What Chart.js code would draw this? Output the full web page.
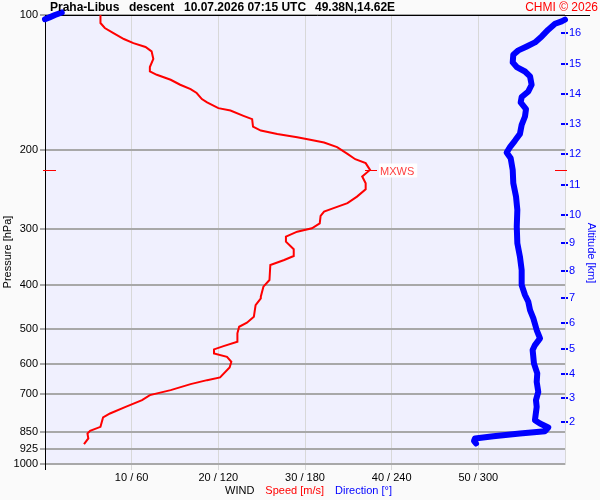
<!DOCTYPE html>
<html>
<head>
<meta charset="utf-8">
<script src="https://cdn.jsdelivr.net/npm/chart.js@4"></script>
<style>
  html, body { margin: 0; padding: 0; background: #fafafa; }
  canvas { display: block; }
</style>
</head>
<body>
<canvas id="wind" width="600" height="500"></canvas>
<script>
// wind speed profile (m/s) vs pressure (hPa)
const speedPressure = [100,104.2,106.9,109.7,113.1,115.5,117.8,120.5,125.3,130.6,
  133.6,135.9,139.4,143.0,146.2,149.2,153.9,156.6,161.2,163.2,
  167.7,170.6,177.2,180.9,184.0,187.1,189.7,192.3,196.9,203.8,
  209.5,213.8,221.3,229.0,236.9,244.3,253.8,262.5,269.3,274.1,
  280.2,291.0,298.5,303.8,311.7,319.8,332.5,344.2,351.3,360.5,
  389.2,402.8,424.1,427.6,442.6,469.9,484.6,494.7,511.7,534.3,
  546.3,555.6,567.1,577.1,592.1,609.4,641.5,650.5,663.9,684.7,
  702.5,720.8,746.0,771.7,787.7,826.6,843.7,855.1,877.3,903.4];
const speedValues = [6.4,6.4,6.9,7.9,9.1,10.2,11.6,12.3,12.5,12.1,
  12.1,12.9,14.5,15.6,16.8,17.5,18.1,18.7,20.0,21.4,
  22.9,23.9,24.0,24.9,26.8,29.1,30.6,32.2,33.7,34.9,
  35.8,37.0,37.5,36.6,37.0,37.0,36.0,34.9,33.3,32.2,
  31.8,31.7,30.8,29.1,27.8,27.8,28.7,28.7,27.6,26.0,
  25.9,25.2,24.9,24.9,24.3,24.1,23.3,22.4,22.2,22.2,
  20.6,19.5,19.5,21.0,21.5,21.3,20.2,18.7,16.8,14.5,
  12.1,11.2,9.3,7.5,6.7,6.4,5.2,4.9,5.0,4.5];

// wind direction (deg) vs pressure
const dirPressure = [102.4,103.3,104.6,107.8,111.6,115.1,117.5,119.9,122.6,127.5,
  130.6,133.6,137.0,143.0,148.0,152.3,156.6,162.0,168.3,175.7,
  184.0,190.4,196.9,202.4,208.4,221.3,236.9,253.8,271.7,296.1,
  322.4,345.4,369.8,399.4,420.4,435.2,454.1,473.8,503.1,525.0,
  543.5,557.6,597.0,628.4,656.2,690.8,720.8,746.0,798.6,812.3,
  829.2,845.0,855.1,867.0,877.3,888.2,900.1];
const dirValues = [360,357.7,353.1,348.4,343.9,339.2,333.5,327.7,324.2,323.8,
  326.6,332.3,335.8,336.9,334.6,330.0,329.3,333.0,332.3,330.0,
  328.8,325.4,321.9,319.6,322.4,323.8,324.2,326.1,327.0,326.6,
  327.0,328.8,330.0,330.0,332.3,334.6,335.8,338.1,340.4,342.7,
  339.2,337.6,338.5,340.8,340.4,341.5,339.9,340.4,339.2,342.7,
  348.4,346.2,328.8,310.4,297.7,297.0,298.4];
// part that wrapped past 360 at the top
const dirWrapPressure = [102.2, 101.1, 100.0, 98.7];
const dirWrapValues = [0, 3.5, 6.9, 11.6];

// max wind level
const mxwsPressure = 221.3;
const mxwsSpeed = 37.5;

// ticks
const pressureTicks = [100,200,300,400,500,600,700,850,925,1000];
const speedTicks = [10,20,30,40,50];
const directionTicks = [60,120,180,240,300];
const altitudeKm = [2,3,4,5,6,7,8,9,10,11,12,13,14,15,16];
const altitudePressure = [808,714.5,630.6,553.9,486,427.6,372.2,322.4,278.7,238.9,204.2,175,150,128.6,109.5];

const FONT = "'Liberation Sans', Arial, sans-serif";
Chart.defaults.font.family = FONT;
Chart.defaults.font.size = 11;
Chart.defaults.color = '#000';

const toPts = (ps, vs) => ps.map((p, i) => ({ x: vs[i], y: p }));

const decor = {
  id: 'decor',
  beforeDraw(chart) {
    const { ctx, chartArea: a } = chart;
    ctx.save();
    ctx.fillStyle = '#fafafa';
    ctx.fillRect(0, 0, chart.width, chart.height);
    ctx.fillStyle = '#f0f0fe';
    ctx.fillRect(a.left, a.top, a.right - a.left, a.bottom - a.top);
    ctx.restore();
  },
  beforeDatasetsDraw(chart) {
    const { ctx, chartArea: a, scales } = chart;
    ctx.save();
    // top frame + left axis
    ctx.strokeStyle = '#000';
    ctx.lineWidth = 1;
    ctx.beginPath();
    ctx.moveTo(a.left, a.top + 0.5);
    ctx.lineTo(590, a.top + 0.5);
    ctx.moveTo(a.left + 0.5, a.top);
    ctx.lineTo(a.left + 0.5, a.bottom + 6);
    ctx.stroke();
    // altitude tick stubs reach a little into the plot
    ctx.strokeStyle = '#0000ff';
    ctx.lineWidth = 2;
    ctx.beginPath();
    scales.y2.ticks.forEach(t => {
      const yy = Math.round(scales.y2.getPixelForValue(t.value));
      ctx.moveTo(a.right - 4, yy); ctx.lineTo(a.right, yy);
    });
    ctx.stroke();
    // max wind markers on both sides
    const ym = Math.round(scales.y.getPixelForValue(mxwsPressure)) + 0.5;
    ctx.strokeStyle = '#ff0000';
    ctx.lineWidth = 1;
    ctx.beginPath();
    ctx.moveTo(43, ym); ctx.lineTo(56, ym);
    ctx.moveTo(555, ym); ctx.lineTo(567, ym);
    ctx.stroke();
    ctx.restore();
  },
  afterDatasetsDraw(chart) {
    const { ctx, scales } = chart;
    ctx.save();
    const ym = Math.round(scales.y.getPixelForValue(mxwsPressure)) + 0.5;
    const xm = scales.x.getPixelForValue(mxwsSpeed);
    ctx.strokeStyle = '#ff0000';
    ctx.lineWidth = 1;
    ctx.beginPath();
    ctx.moveTo(xm - 5, ym); ctx.lineTo(xm + 7, ym);
    ctx.stroke();
    ctx.font = '11px ' + FONT;
    ctx.textBaseline = 'middle';
    const w = ctx.measureText('MXWS').width;
    ctx.fillStyle = 'rgba(255,255,255,0.9)';
    ctx.fillRect(xm + 9, ym - 7, w + 4, 14);
    ctx.fillStyle = '#ff4040';
    ctx.fillText('MXWS', xm + 10, ym + 1);

    // header
    ctx.fillStyle = '#000';
    ctx.font = 'bold 12px ' + FONT;
    ctx.textBaseline = 'middle';
    ctx.fillText('Praha-Libus', 50, 8);
    ctx.fillText('descent', 129, 8);
    ctx.fillText('10.07.2026 07:15 UTC', 184, 8);
    ctx.fillText('49.38N,14.62E', 315, 8);
    ctx.font = '12px ' + FONT;
    ctx.fillStyle = '#ff0000';
    ctx.textAlign = 'right';
    ctx.fillText('CHMI \u00a9 2026', 598, 8);

    // bottom axis title in three colours
    ctx.font = '11px ' + FONT;
    ctx.textAlign = 'left';
    const parts = [['WIND', '#000'], ['Speed [m/s]', '#ff0000'], ['Direction [\u00b0]', '#0000ff']];
    let x = 225;
    parts.forEach(([t, c]) => {
      ctx.fillStyle = c;
      ctx.fillText(t, x, 491);
      x += ctx.measureText(t).width + 11;
    });

    // side titles
    ctx.textAlign = 'center';
    ctx.save();
    ctx.translate(8, 252);
    ctx.rotate(-Math.PI / 2);
    ctx.fillStyle = '#000';
    ctx.fillText('Pressure [hPa]', 0, 0);
    ctx.restore();
    ctx.save();
    ctx.translate(591, 253);
    ctx.rotate(Math.PI / 2);
    ctx.fillStyle = '#0000ff';
    ctx.fillText('Altitude [km]', 0, 0);
    ctx.restore();
    ctx.restore();
  }
};

new Chart(document.getElementById('wind').getContext('2d'), {
  type: 'scatter',
  data: {
    datasets: [{
      label: 'Direction',
      data: toPts(dirPressure, dirValues),
      xAxisID: 'xd', yAxisID: 'y',
      showLine: true, borderColor: '#0000ff', borderWidth: 6,
      borderCapStyle: 'round', borderJoinStyle: 'round',
      pointRadius: 0, tension: 0, clip: false
    }, {
      label: 'Direction (wrapped)',
      data: toPts(dirWrapPressure, dirWrapValues),
      xAxisID: 'xd', yAxisID: 'y',
      showLine: true, borderColor: '#0000ff', borderWidth: 6,
      borderCapStyle: 'round', borderJoinStyle: 'round',
      pointRadius: 0, tension: 0, clip: false
    }, {
      label: 'Speed',
      data: toPts(speedPressure, speedValues),
      xAxisID: 'x', yAxisID: 'y',
      showLine: true, borderColor: '#ff0000', borderWidth: 2,
      pointRadius: 0, tension: 0
    }]
  },
  options: {
    responsive: false,
    animation: false,
    layout: { padding: { top: 15, left: 0, right: 0, bottom: 0 } },
    plugins: { legend: { display: false }, tooltip: { enabled: false } },
    scales: {
      x: {
        type: 'linear', position: 'bottom', min: 0, max: 60,
        afterBuildTicks: ax => { ax.ticks = speedTicks.map(v => ({ value: v })); },
        afterFit: ax => { ax.height = 36; },
        ticks: {
          autoSkip: false, maxRotation: 0, padding: 1, color: '#000',
          callback: (v, i) => speedTicks[i] + ' / ' + directionTicks[i]
        },
        grid: { color: '#d8d8d8', lineWidth: 1, tickLength: 6, tickColor: '#d8d8d8' },
        border: { display: false }
      },
      xd: { type: 'linear', display: false, min: 0, max: 360 },
      y: {
        type: 'logarithmic', position: 'left', reverse: true, min: 100, max: 1000,
        afterBuildTicks: ax => { ax.ticks = pressureTicks.map(v => ({ value: v })); },
        afterFit: ax => { ax.width = 45; },
        ticks: {
          autoSkip: false, padding: 2, color: '#000',
          callback: (v, i) => String(pressureTicks[i])
        },
        grid: { color: '#a8a8a8', lineWidth: 2, tickLength: 5, tickColor: '#a8a8a8' },
        border: { display: false }
      },
      y2: {
        type: 'logarithmic', position: 'right', reverse: true, min: 100, max: 1000,
        afterBuildTicks: ax => { ax.ticks = altitudePressure.map(v => ({ value: v })); },
        afterFit: ax => { ax.width = 35; },
        ticks: {
          autoSkip: false, padding: 1, color: '#0000ff',
          callback: (v, i) => String(altitudeKm[i])
        },
        grid: { drawOnChartArea: false, tickLength: 3, tickColor: '#0000ff', lineWidth: 2 },
        border: { display: true, color: '#d8d8d8', width: 1 }
      }
    }
  },
  plugins: [decor]
});
</script>
</body>
</html>
